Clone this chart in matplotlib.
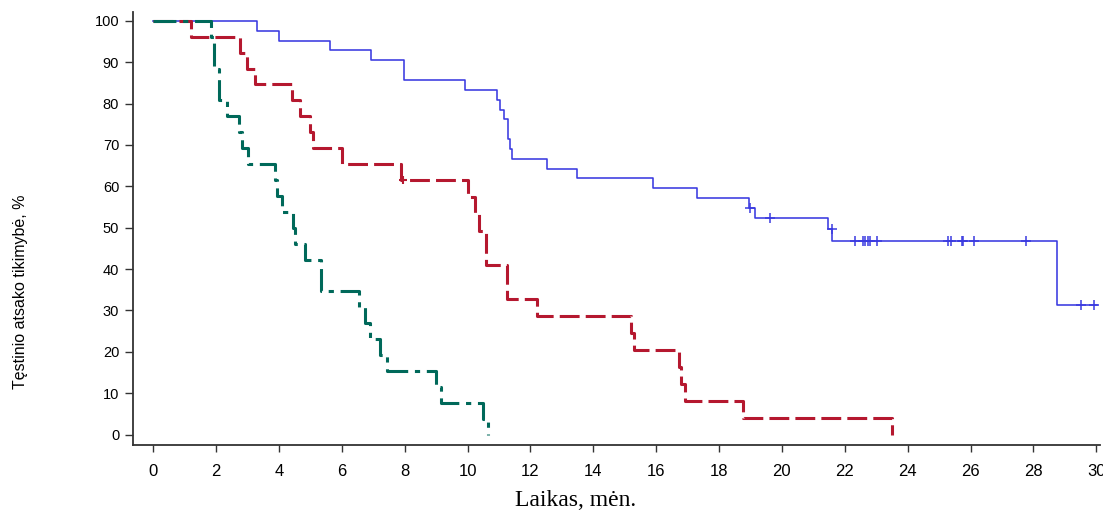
import numpy as np
import matplotlib
matplotlib.use('Agg')
import matplotlib.pyplot as plt

# Kaplan-Meier curves (months, %)
blue_t = [0, 3.29, 4.00, 5.62, 6.93, 7.99, 9.93, 10.93, 11.02, 11.15, 11.27, 11.36, 11.40,
          12.51, 13.48, 15.89, 17.30, 18.95, 19.13, 21.46, 21.59, 28.75, 30.03]
blue_s = [100, 97.62, 95.24, 92.86, 90.48, 85.71, 83.33, 80.95, 78.57, 76.19, 71.43, 69.05, 66.67,
          64.29, 61.90, 59.52, 57.14, 54.76, 52.27, 49.66, 46.90, 31.27, 31.27]
blue_cens = [18.98, 19.63, 21.58, 22.34, 22.57, 22.65, 22.74, 22.79, 23.02, 25.29, 25.37,
             25.72, 25.76, 26.11, 27.78, 29.50, 29.94]

red_t = [0, 1.20, 2.76, 2.99, 3.25, 4.42, 4.68, 4.98, 5.09, 6.00, 7.88, 10.02, 10.23, 10.36,
         10.58, 11.25, 12.20, 15.20, 15.30, 16.72, 16.79, 16.92, 18.76, 23.49]
red_s = [100, 96.15, 92.31, 88.46, 84.62, 80.77, 76.92, 73.08, 69.23, 65.38, 61.54, 57.44, 53.33,
         49.23, 41.03, 32.82, 28.72, 24.62, 20.51, 16.41, 12.31, 8.21, 4.10, 0]
red_cens = [7.96]

green_t = [0, 1.85, 1.94, 2.09, 2.36, 2.73, 2.83, 3.01, 3.87, 3.95, 4.08, 4.45, 4.50, 4.82,
           5.35, 6.53, 6.73, 6.89, 7.20, 7.42, 9.01, 9.15, 10.48, 10.66]
green_s = [100, 96.15, 88.46, 80.77, 76.92, 73.08, 69.23, 65.38, 61.54, 57.69, 53.85, 50.00, 46.15,
           42.31, 34.62, 30.77, 26.92, 23.08, 19.23, 15.38, 11.54, 7.69, 3.85, 0]

x_ticks = list(range(0, 31, 2))
y_ticks = list(range(0, 101, 10))

BLUE = '#3a3ae0'
RED = '#b5182f'
GREEN = '#00695a'


def value_at(t, s, when):
    # value of the step curve right after time `when`
    i = np.searchsorted(t, when, side='right') - 1
    return [s[k] for k in i]


fig = plt.figure(figsize=(11.03, 5.12), dpi=100)
ax = fig.add_axes([0.1206, 0.1309, 0.8767, 0.8462])

ax.step(blue_t, blue_s, where='post', color=BLUE, lw=1.15, zorder=2)
ax.plot(blue_cens, value_at(blue_t, blue_s, blue_cens), ls='none', marker='+',
        ms=6.5, mew=1.1, color=BLUE, zorder=2)

ax.step(red_t, red_s, where='post', color=RED, lw=2.2,
        linestyle=(0, (6.5, 2.0)), zorder=3)
ax.plot(red_cens, value_at(red_t, red_s, red_cens), ls='none', marker='+',
        ms=6, mew=1.5, color=RED, zorder=3)

ax.step(green_t, green_s, where='post', color=GREEN, lw=2.2,
        linestyle=(0, (7.5, 2.2, 1.7, 2.2)), zorder=4)

ax.set_xlim(-0.645, 30.12)
ax.set_ylim(-2.5, 102.2)
ax.set_xticks(x_ticks)
ax.set_yticks(y_ticks)

for side in ['top', 'right']:
    ax.spines[side].set_visible(False)
for side in ['left', 'bottom']:
    ax.spines[side].set_color('#333333')
    ax.spines[side].set_linewidth(1.3)

ax.tick_params(axis='x', direction='out', length=5, width=1, color='#333333', pad=9)
ax.tick_params(axis='y', direction='out', length=6, width=1, color='#333333', pad=4)
for lab in ax.get_xticklabels():
    lab.set_family('Liberation Sans')
    lab.set_fontsize(12)
for lab in ax.get_yticklabels():
    lab.set_family('Liberation Sans')
    lab.set_fontsize(10.5)

fig.text(20.7 / 1103, 1 - 292 / 512, 'Tęstinio atsako tikimybė, %', rotation=90,
         ha='center', va='center', fontsize=11.5, family='Liberation Sans')
fig.text(576 / 1103, 1 - 506 / 512, 'Laikas, mėn.', ha='center', va='baseline',
         fontsize=17, family='Liberation Serif')

fig.savefig('out.png', dpi=100)
